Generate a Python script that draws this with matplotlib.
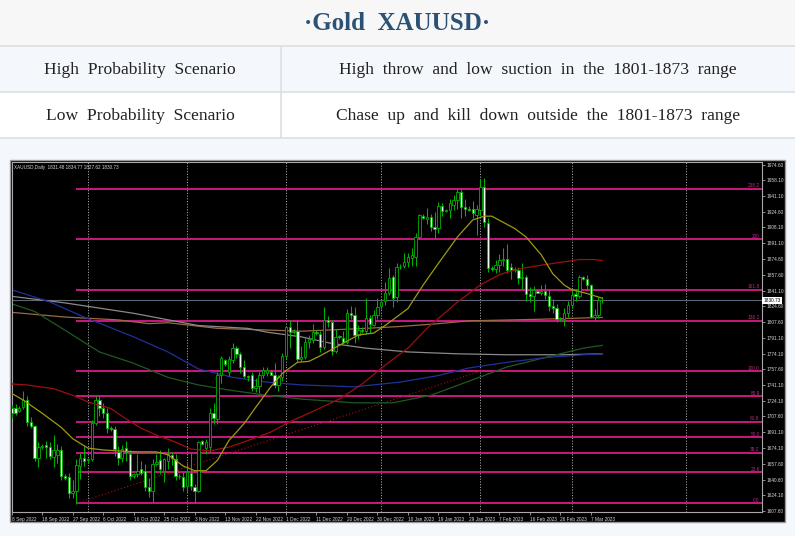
import matplotlib
matplotlib.use("Agg")
import matplotlib.pyplot as plt
from matplotlib.patches import Rectangle
from matplotlib.transforms import blended_transform_factory

# ---------------- data ----------------
title = "·Gold  XAUUSD·"
row_labels = ["High  Probability  Scenario", "Low  Probability  Scenario"]
row_texts = ["High  throw  and  low  suction  in  the  1801-1873  range",
             "Chase  up  and  kill  down  outside  the  1801-1873  range"]

legend_text = "XAUUSD,Daily  1831.48 1834.77 1827.62 1830.73"

opens = [1716,1716,1713,1718,1725,1702,1697,1664,1675,1677,1675,1665,1667,1672,1644,1643,1626,1628,1655,1664,
         1661,1662,1701,1725,1717,1711,1695,1694,1670,1664,1674,1668,1644,1646,1652,1650,1633,1628,1657,1661,
         1650,1660,1667,1662,1644,1643,1634,1648,1633,1629,1681,1674,1675,1711,1705,1751,1767,1755,1767,1780,
         1774,1760,1750,1751,1738,1740,1752,1754,1755,1751,1741,1749,1772,1802,1797,1798,1769,1771,1787,1789,
         1797,1795,1781,1810,1808,1777,1792,1791,1787,1817,1815,1794,1799,1798,1812,1805,1815,1825,1830,1838,
         1855,1834,1866,1867,1871,1876,1877,1898,1920,1917,1919,1909,1907,1931,1926,1927,1932,1937,1946,1930,
         1928,1928,1921,1927,1951,1913,1865,1864,1868,1873,1875,1866,1863,1863,1854,1855,1837,1835,1841,1839,
         1841,1835,1825,1823,1811,1811,1817,1826,1837,1835,1855,1853,1847,1813,1815,1831.48]
highs = [1720,1721,1719,1735,1729,1707,1699,1680,1678,1682,1680,1688,1678,1676,1646,1648,1640,1662,1669,1676,
         1663,1704,1729,1730,1722,1716,1697,1697,1676,1677,1682,1672,1648,1668,1660,1657,1642,1662,1668,1672,
         1664,1674,1670,1668,1647,1649,1658,1669,1636,1682,1683,1684,1717,1722,1755,1772,1769,1772,1786,1782,
         1776,1767,1752,1755,1748,1755,1760,1760,1757,1764,1752,1775,1804,1810,1800,1810,1782,1791,1794,1806,
         1799,1798,1824,1814,1810,1800,1794,1798,1822,1825,1824,1805,1802,1833,1815,1820,1833,1830,1850,1865,
         1858,1870,1869,1881,1881,1886,1902,1922,1922,1929,1922,1924,1935,1934,1928,1938,1942,1949,1950,1938,
         1931,1936,1932,1959,1960,1918,1867,1874,1880,1886,1890,1870,1866,1866,1870,1858,1845,1846,1843,1847,
         1848,1842,1832,1827,1813,1823,1830,1842,1841,1858,1857,1858,1848,1822,1834,1834.77]
lows = [1706,1709,1712,1715,1697,1695,1660,1654,1673,1664,1662,1654,1658,1640,1640,1621,1621,1615,1641,1655,
        1658,1660,1698,1708,1706,1690,1692,1666,1656,1659,1660,1640,1642,1643,1645,1628,1622,1617,1655,1647,
        1638,1652,1656,1640,1641,1628,1627,1630,1616,1627,1677,1668,1670,1700,1700,1743,1761,1750,1764,1770,
        1754,1748,1745,1735,1733,1732,1748,1750,1751,1738,1735,1745,1768,1780,1795,1765,1766,1768,1780,1785,
        1794,1776,1779,1802,1773,1775,1790,1784,1784,1811,1785,1790,1796,1795,1796,1803,1811,1822,1826,1836,
        1824,1829,1864,1865,1866,1867,1867,1896,1917,1912,1904,1896,1902,1920,1924,1918,1927,1928,1918,1920,
        1925,1918,1900,1920,1908,1861,1862,1860,1861,1867,1860,1853,1861,1848,1843,1830,1829,1819,1838,1836,
        1832,1819,1817,1808,1809,1804,1813,1823,1830,1833,1852,1842,1812,1809,1812,1827.62]
closes = [1711,1711,1717,1725,1702,1697,1663,1675,1676,1675,1666,1672,1672,1644,1642,1626,1628,1656,1664,1660,
          1662,1701,1725,1717,1711,1695,1694,1673,1664,1673,1670,1644,1646,1650,1648,1633,1628,1657,1659,1652,
          1662,1668,1663,1644,1644,1633,1649,1634,1629,1680,1678,1680,1711,1706,1751,1770,1763,1769,1780,1774,
          1760,1750,1749,1738,1740,1752,1757,1757,1752,1741,1749,1772,1802,1797,1798,1769,1771,1787,1790,1797,
          1796,1781,1810,1808,1777,1792,1792,1787,1817,1815,1794,1799,1798,1812,1806,1815,1824,1829,1838,1854,
          1833,1866,1866,1871,1877,1879,1898,1921,1918,1919,1908,1906,1931,1926,1927,1934,1937,1946,1930,1928,
          1927,1923,1928,1951,1914,1865,1864,1868,1874,1875,1863,1863,1864,1854,1855,1837,1835,1842,1839,1841,
          1836,1825,1823,1811,1811,1817,1826,1836,1835,1855,1853,1847,1813,1815,1831,1830.73]

date_labels = ["8 Sep 2022", "18 Sep 2022", "27 Sep 2022", "6 Oct 2022", "16 Oct 2022", "25 Oct 2022",
               "3 Nov 2022", "13 Nov 2022", "22 Nov 2022", "1 Dec 2022", "11 Dec 2022", "20 Dec 2022",
               "30 Dec 2022", "10 Jan 2023", "19 Jan 2023", "29 Jan 2023", "7 Feb 2023", "16 Feb 2023",
               "26 Feb 2023", "7 Mar 2023"]
date_label_step = 8
month_start_bars = [20, 46, 72, 97, 123, 147, 177]

price_ticks = [1974.60, 1958.10, 1941.10, 1924.60, 1908.10, 1891.10, 1874.60, 1857.60, 1841.10, 1824.60,
               1807.60, 1791.10, 1774.10, 1757.60, 1741.10, 1724.10, 1707.60, 1691.10, 1674.10, 1657.60,
               1640.60, 1624.10, 1607.60]
last_price = 1830.73

# Fibonacci retracement object
fib_low = 1615.5
fib_high = 1755.5
fib_start_bar = 17
fib_end_bar = 123
fib_ratios = [0.0, 0.236, 0.382, 0.5, 0.618, 0.809, 1.0, 1.382, 1.618, 2.0, 2.382]
fib_labels = ["0.0", "23.6", "38.2", "50.0", "61.8", "80.9", "100.0", "138.2", "161.8", "200", "238.2"]

# moving averages (bar index, value)
ma_yellow_idx = [0, 3, 8, 13, 16, 20, 24, 28, 33, 38, 41, 45, 48, 51, 54, 57, 61, 64, 68, 71, 75, 78, 81, 86,
                 91, 95, 98, 104, 108, 112, 117, 121, 124, 126, 132, 135, 139, 142, 145, 147, 151, 155]
ma_yellow_val = [1732, 1725, 1711, 1696, 1684, 1674, 1672, 1671, 1670, 1670, 1667, 1655, 1650, 1650, 1661,
                 1682, 1700, 1717, 1739, 1753, 1765, 1766, 1772, 1783, 1794, 1796, 1804, 1822, 1847, 1870,
                 1898, 1916, 1920, 1920, 1907, 1898, 1879, 1859, 1847, 1842, 1838, 1833]
ma_red_idx = [0, 4, 11, 16, 20, 26, 30, 34, 39, 42, 47, 52, 57, 62, 68, 73, 78, 86, 92, 98, 104, 109, 117,
              123, 128, 133, 139, 144, 149, 153, 155]
ma_red_val = [1742, 1741, 1737, 1730, 1723, 1716, 1705, 1695, 1686, 1682, 1673, 1671, 1675, 1682, 1691, 1702,
              1711, 1726, 1742, 1762, 1780, 1801, 1829, 1847, 1858, 1864, 1868, 1871, 1874, 1874, 1873]
ma_blue_idx = [0, 10, 19, 32, 41, 49, 58, 67, 76, 90, 102, 112, 120, 130, 140, 150, 155]
ma_blue_val = [1842, 1829, 1813, 1792, 1776, 1758, 1749, 1744, 1741, 1739, 1744, 1751, 1759, 1765, 1770,
               1773, 1774]
ma_green_idx = [0, 6, 14, 23, 32, 41, 49, 58, 67, 76, 90, 100, 110, 120, 130, 140, 150, 155]
ma_green_val = [1827, 1819, 1799, 1776, 1764, 1749, 1741, 1735, 1730, 1726, 1722, 1722, 1730, 1745, 1760,
                1770, 1780, 1783]
ma_gray_idx = [0, 14, 32, 49, 62, 67, 76, 84, 93, 104, 117, 130, 145, 155]
ma_gray_val = [1835, 1828, 1817, 1804, 1801, 1797, 1792, 1785, 1780, 1776, 1774, 1773, 1773, 1774]
ma_brown_idx = [0, 14, 28, 36, 41, 54, 76, 93, 102, 112, 120, 137, 155]
ma_brown_val = [1818, 1813, 1810, 1806, 1807, 1801, 1798, 1801, 1803, 1806, 1809, 1810.5, 1812.6]

# ---------------- figure ----------------
W, H = 795, 536
fig = plt.figure(figsize=(W / 100, H / 100), dpi=100)
fig.patch.set_facecolor("#f4f7fb")

bg = fig.add_axes([0, 0, 1, 1], zorder=0)
bg.set_xlim(0, W)
bg.set_ylim(H, 0)
bg.axis("off")

# header table
bg.add_patch(Rectangle((0, 0), W, 46, facecolor="#f7f7f7", edgecolor="none"))
bg.add_patch(Rectangle((0, 46), W, 46, facecolor="#f4f8fd", edgecolor="none"))
bg.add_patch(Rectangle((0, 92), W, 46, facecolor="#ffffff", edgecolor="none"))
for yy in (46, 92, 138):
    bg.plot([0, W], [yy, yy], color="#dcdfe3", lw=1.2)
bg.plot([281, 281], [46, 138], color="#dcdfe3", lw=1.2)

bg.text(W / 2, 23, title, ha="center", va="center", fontsize=18, fontweight="bold",
        family="Liberation Serif", color="#2b5274")
for k in range(2):
    yc = 70 + 45.5 * k
    bg.text(140, yc, row_labels[k], ha="center", va="center", fontsize=12.6,
            family="Liberation Serif", color="#222222")
    bg.text(538, yc, row_texts[k], ha="center", va="center", fontsize=12.6,
            family="Liberation Serif", color="#222222")

# chart panel
bg.add_patch(Rectangle((9.5, 159.5), 775, 362.5, facecolor="black", edgecolor="#9a9a9a", lw=1))

px0, px1, py0, py1 = 11.5, 762, 161.7, 512
ax = fig.add_axes([px0 / W, (H - py1) / H, (px1 - px0) / W, (py1 - py0) / H], zorder=1)
ax.set_facecolor("black")
ax.set_xlim(-0.05, 196.93)
ax.set_ylim(1606.2, 1977.8)

for s in ax.spines.values():
    s.set_color("#a8a8a8")
    s.set_linewidth(0.8)

# month grid
for b in month_start_bars:
    ax.axvline(b, color="#a0a0a0", lw=0.7, ls=(0, (1.2, 1.6)), zorder=1)

# fib levels
fib_color = "#c8187f"
for r, lab in zip(fib_ratios, fib_labels):
    lvl = fib_low + r * (fib_high - fib_low)
    ax.plot([fib_start_bar, 197], [lvl, lvl], color=fib_color, lw=1.4, zorder=2, solid_capstyle="butt")
    ax.text(196.3, lvl + 0.6, lab, ha="right", va="bottom", fontsize=3.4, color="#b03080",
            family="Liberation Sans", zorder=6)
ax.plot([fib_start_bar, fib_end_bar], [fib_low, fib_high], color="#b01010", lw=0.8,
        ls=(0, (1, 2)), zorder=2)

# current price line
ax.axhline(last_price, color="#5c6672", lw=0.8, zorder=2)

# moving averages
ax.plot(ma_brown_idx, ma_brown_val, color="#9a6a44", lw=0.9, zorder=2.5)
ax.plot(ma_gray_idx, ma_gray_val, color="#8a8a8a", lw=0.9, zorder=2.5)
ax.plot(ma_green_idx, ma_green_val, color="#1f5a1f", lw=0.9, zorder=2.5)
ax.plot(ma_blue_idx, ma_blue_val, color="#20309c", lw=0.9, zorder=2.5)
ax.plot(ma_red_idx, ma_red_val, color="#9c0f0f", lw=0.9, zorder=4)
ax.plot(ma_yellow_idx, ma_yellow_val, color="#9e9a10", lw=0.9, zorder=4)

# candles
wick_color = "#00b000"
for i, (o, h, l, c) in enumerate(zip(opens, highs, lows, closes)):
    ax.plot([i, i], [l, h], color=wick_color, lw=0.75, zorder=3, solid_capstyle="butt")
    bottom = min(o, c)
    height = max(abs(c - o), 0.4)
    face = "black" if c > o else "#eefcee"
    ax.add_patch(Rectangle((i - 0.31, bottom), 0.62, height, facecolor=face,
                           edgecolor=wick_color, lw=0.6, zorder=3.2))

# axes ticks
tick_pos = [k * date_label_step for k in range(len(date_labels))]
ax.set_xticks(tick_pos)
ax.set_xticklabels(date_labels)
for t in ax.get_xticklabels():
    t.set_horizontalalignment("left")
    t.set_fontsize(3.4)
    t.set_family("Liberation Sans")
    t.set_color("#d8d8d8")
ax.tick_params(axis="x", direction="out", length=2.5, width=0.6, color="#a8a8a8", pad=1.2)

ax.yaxis.tick_right()
ax.set_yticks(price_ticks)
ax.set_yticklabels([f"{p:.2f}" for p in price_ticks])
for t in ax.get_yticklabels():
    t.set_fontsize(3.4)
    t.set_family("Liberation Sans")
    t.set_color("#d8d8d8")
ax.tick_params(axis="y", direction="out", length=2, width=0.6, color="#a8a8a8", pad=1)

# last price box
tr = blended_transform_factory(ax.transAxes, ax.transData)
ax.text(1.002, last_price, f"{last_price:.2f}", transform=tr, ha="left", va="center", fontsize=3.4,
        family="Liberation Sans", color="black", zorder=7, clip_on=False,
        bbox=dict(boxstyle="square,pad=0.25", facecolor="white", edgecolor="none"))

ax.text(0.003, 0.992, legend_text, transform=ax.transAxes, ha="left", va="top", fontsize=3.3,
        family="Liberation Sans", color="#d8d8d8", zorder=7)

fig.savefig("out.png", dpi=100, facecolor=fig.get_facecolor())
